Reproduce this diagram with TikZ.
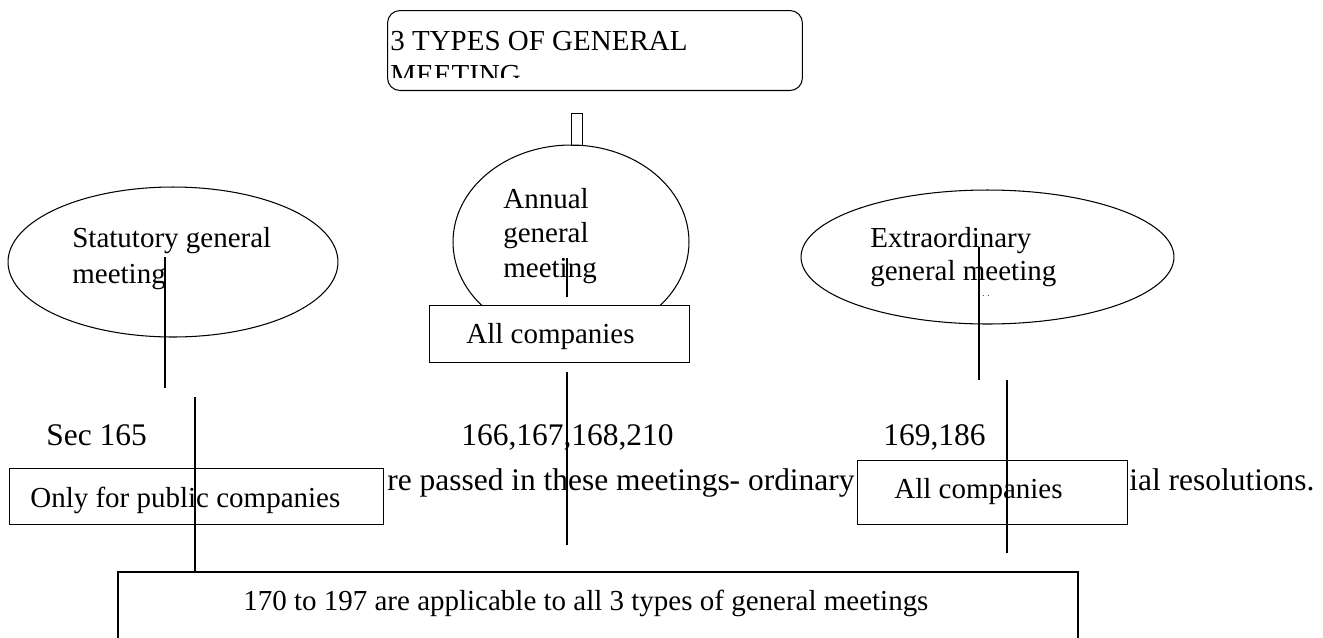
\documentclass[tikz,border=0pt]{standalone}
\usepackage{fontspec}
\setmainfont{Liberation Serif}
\usetikzlibrary{shapes.geometric}

\begin{document}
\begin{tikzpicture}[x=0.02cm,y=-0.02cm,
    box/.style={draw,line width=0.6pt,fill=white,inner sep=0pt,anchor=north west},
    oval/.style={draw,ellipse,line width=0.6pt,inner sep=0pt},
    txt/.style={anchor=base west,inner sep=0pt,font=\fontsize{16.5}{20}\selectfont},
    bigtxt/.style={anchor=base west,inner sep=0pt,font=\fontsize{17.9}{21}\selectfont},
    link/.style={line width=0.7pt}]

  \clip (0,0) rectangle (1323,637);

  % heading
  \node[box,rounded corners=0.25cm,minimum width=8.3cm,minimum height=1.6cm] (head) at (387,10) {};
  \begin{scope}
    \clip (388,11) rectangle (801,77);
    \node[txt] (head1) at (390,50) {3 TYPES OF GENERAL};
    \node[txt] (head2) at (390,84) {MEETING};
  \end{scope}
  \node[box,minimum width=0.22cm,minimum height=0.64cm] (stub) at (571,113) {};

  % the three meetings
  \node[oval,minimum width=6.6cm,minimum height=3cm] (stat) at (173,262) {};
  \node[oval,minimum width=4.72cm,minimum height=3.88cm] (annual) at (571,242) {};
  \node[oval,minimum width=7.46cm,minimum height=2.68cm] (extra) at (987.5,257) {};

  \node[txt] (stat1) at (72,247) {Statutory general};
  \node[txt] (stat2) at (72,283) {meeting};
  \node[txt] (annual1) at (503,208) {Annual};
  \node[txt] (annual2) at (503,242) {general};
  \node[txt] (annual3) at (503,277) {meeting};
  \node[txt] (extra1) at (870,247) {Extraordinary};
  \node[txt] (extra2) at (870,280) {general meeting};
  \node[anchor=base west,inner sep=0pt,font=\tiny] (extradots) at (982,296) {. .};

  \node[box,minimum width=5.2cm,minimum height=1.14cm] (annualbox) at (429,305) {};
  \node[txt] (annualall) at (466,343) {All companies};

  % sections
  \node[bigtxt] (sec) at (46,445) {Sec 165};
  \node[bigtxt] (secann) at (461,445) {166,167,168,210};
  \node[bigtxt] (secext) at (883,445) {169,186};

  \node[bigtxt] (passed) at (387,490) {re passed in these meetings- ordinary};
  \node[bigtxt] (resol) at (1129,490) {ial resolutions.};

  \node[box,minimum width=7.48cm,minimum height=1.12cm] (public) at (9,468) {};
  \node[txt] (publictxt) at (30,507) {Only for public companies};
  \node[box,minimum width=5.4cm,minimum height=1.28cm] (extrabox) at (857,460) {};
  \node[txt] (extraall) at (894,498) {All companies};

  \node[box,line width=1pt,minimum width=19.2cm,minimum height=2cm] (common) at (117,571) {};
  \node[txt] (commontxt) at (243,610) {170 to 197 are applicable to all 3 types of general meetings};

  % lines
  \coordinate (s1) at (165,257);
  \coordinate (s2) at (165,388);
  \coordinate (p1) at (195,397);
  \coordinate (a1) at (567,258);
  \coordinate (a2) at (567,297);
  \coordinate (a3) at (567,372);
  \coordinate (a4) at (567,545);
  \coordinate (e1) at (979,247);
  \coordinate (e2) at (979,380);
  \coordinate (e3) at (1007,380);
  \coordinate (e4) at (1007,553);

  \draw[link] (s1) -- (s2);
  \draw[link] (p1) -- (p1 |- common.north);
  \draw[link] (a1) -- (a2);
  \draw[link] (a3) -- (a4);
  \draw[link] (e1) -- (e2);
  \draw[link] (e3) -- (e4);

\end{tikzpicture}
\end{document}
